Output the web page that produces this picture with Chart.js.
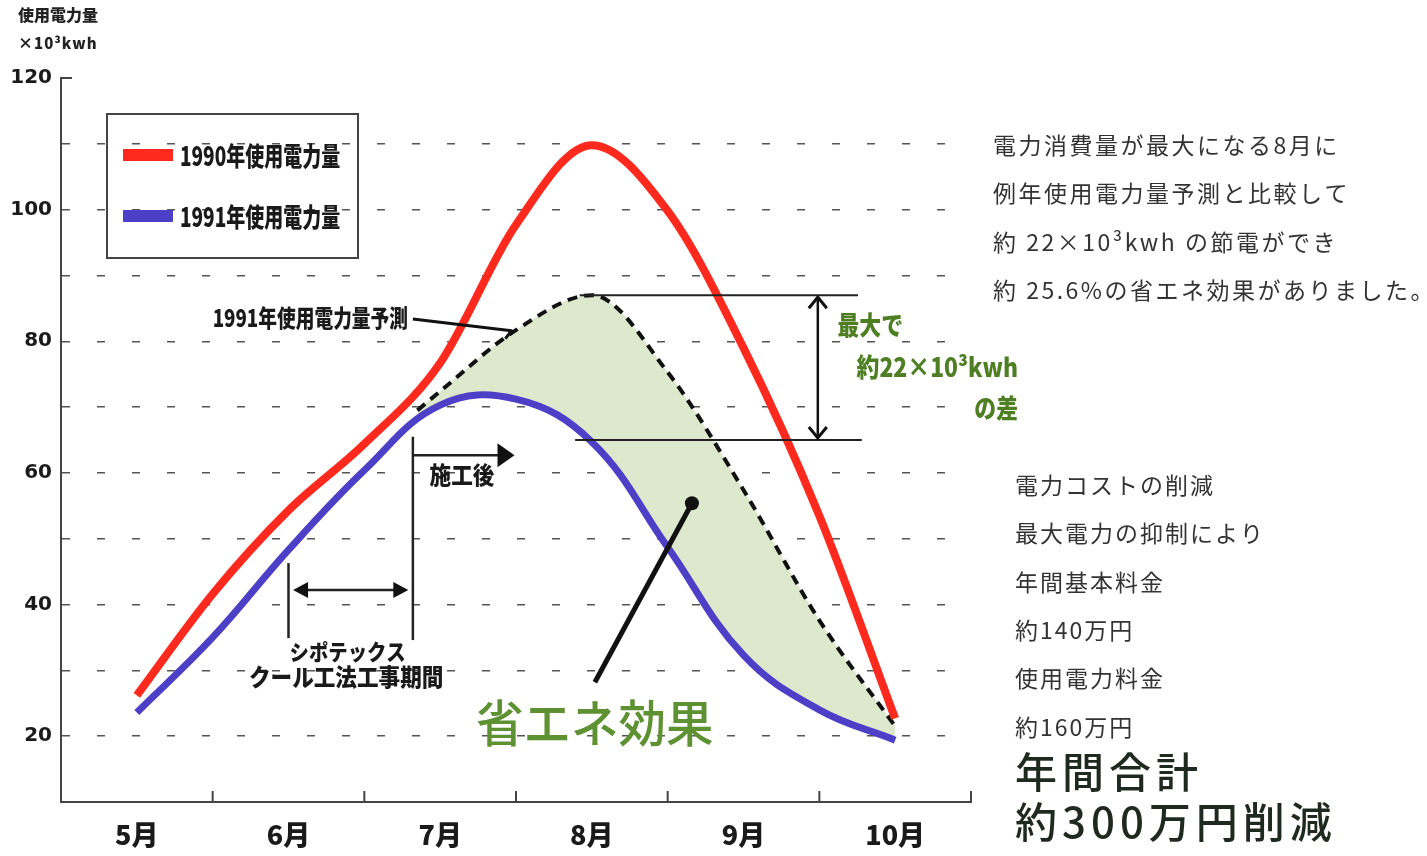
<!DOCTYPE html>
<html lang="ja">
<head>
<meta charset="utf-8">
<title>使用電力量</title>
<script src="https://cdn.jsdelivr.net/npm/chart.js@4.4.1/dist/chart.umd.min.js"></script>
<style>
  html,body{margin:0;padding:0;background:#fff;}
  canvas{display:block;}
</style>
</head>
<body>
<canvas id="graficoConsumo" width="1427" height="856"></canvas>
<script>
const meses = ['5月','6月','7月','8月','9月','10月'];

// lecturas cada medio mes (x en meses)
const xMes = [5,5.5,6,6.5,7,7.5,8,8.5,9,9.5,10];
const uso1990 = [26.2,41.6,54.3,64.4,76.7,97.7,109.8,99.8,79,53.5,22.7];
const uso1991 = [23.6,35,48.3,60.4,70.3,71.2,64.7,48.7,32.3,24,19.4];

// prediccion 1991, desde el fin de obra
const xPrediccion = [6.85,7,7.5,8,8.5,9,9.5,10];
const prediccion1991 = [69.5,72.4,81.7,87,75.3,57.4,37.6,21.5];

const yEtiquetas = [20,40,60,80,100,120];
const Y_MIN = 10, Y_MAX = 120;
const FIN_OBRA = 6.82, INICIO_OBRA = 6.0;
const DIFERENCIA_MAX = 22;

const notaAhorro = [
  '電力消費量が最大になる8月に',
  '例年使用電力量予測と比較して',
  '約 22×10³kwh の節電ができ',
  '約 25.6%の省エネ効果がありました。'
];
const notaCoste = ['電力コストの削減','最大電力の抑制により','年間基本料金','約140万円','使用電力料金','約160万円'];
const notaTotal = ['年間合計','約300万円削減'];

const JP = '"Noto Sans CJK JP"';
const ROJO = '#ff2a1d', AZUL = '#4d40c6', VERDE = '#4e7f22';

function puntos(xs, ys){
  return ys.map((v,i)=>({x:xs[i], y:v}));
}

function texto(ctx, str, x, y, font, color, opts={}){
  const {align='left', sx=1, spacing=0} = opts;
  ctx.save();
  ctx.font = font;
  ctx.fillStyle = color;
  ctx.letterSpacing = spacing+'px';
  ctx.textBaseline = 'middle';
  ctx.textAlign = 'left';
  const w = ctx.measureText(str).width*sx;
  let x0 = x;
  if(align==='center') x0 = x-w/2;
  if(align==='right') x0 = x-w;
  ctx.translate(x0,y);
  ctx.scale(sx,1);
  ctx.fillText(str,0,0);
  ctx.restore();
}

function linea(ctx, pts, lw, color){
  ctx.save();
  ctx.strokeStyle = color; ctx.lineWidth = lw;
  ctx.lineJoin = 'round';
  ctx.beginPath();
  pts.forEach((p,i)=> i ? ctx.lineTo(p[0],p[1]) : ctx.moveTo(p[0],p[1]));
  ctx.stroke();
  ctx.restore();
}

// punta rellena en (x2,y2) mirando desde (x1,y1)
function punta(ctx, x1,y1,x2,y2, largo, ancho){
  const a = Math.atan2(y2-y1, x2-x1);
  ctx.save();
  ctx.translate(x2,y2); ctx.rotate(a);
  ctx.fillStyle = '#111';
  ctx.beginPath();
  ctx.moveTo(0,0); ctx.lineTo(-largo,-ancho); ctx.lineTo(-largo,ancho);
  ctx.closePath(); ctx.fill();
  ctx.restore();
}

function puntaAbierta(ctx, x1,y1,x2,y2, largo, ancho){
  const a = Math.atan2(y2-y1, x2-x1);
  ctx.save();
  ctx.translate(x2,y2); ctx.rotate(a);
  ctx.strokeStyle = '#111'; ctx.lineWidth = 3;
  ctx.beginPath();
  ctx.moveTo(-largo,-ancho); ctx.lineTo(0,0); ctx.lineTo(-largo,ancho);
  ctx.stroke();
  ctx.restore();
}

const fondo = {
  id:'fondo',
  beforeDraw(chart){
    const ctx = chart.ctx;
    ctx.save(); ctx.fillStyle = '#fff';
    ctx.fillRect(0,0,chart.width,chart.height);
    ctx.restore();
  }
};

const anotaciones = {
  id:'anotaciones',
  afterDraw(chart){
    const ctx = chart.ctx, ca = chart.chartArea;
    const X = v => chart.scales.xv.getPixelForValue(v);
    const Y = v => chart.scales.y.getPixelForValue(v);

    // marcas de eje
    for(let i=1;i<=meses.length;i++){
      const x = X(4.5+i);
      linea(ctx, [[x,ca.bottom],[x,ca.bottom-11]], 2, '#444');
    }
    linea(ctx, [[ca.left,Y(Y_MAX)],[ca.left+11,Y(Y_MAX)]], 2, '#444');

    // titulo del eje y
    texto(ctx, '使用電力量', 18, 15, `900 16px ${JP}`, '#222');
    texto(ctx, '×10³kwh', 18, 43, `900 15px ${JP}`, '#222', {spacing:1});

    // leyenda
    const lx = ca.left+46, ly = ca.top+36;
    ctx.save();
    ctx.strokeStyle = '#444'; ctx.lineWidth = 2;
    ctx.strokeRect(lx, ly, 251, 144);
    ctx.restore();
    chart.data.datasets.slice(0,2).forEach((ds,i)=>{
      const yy = ly+41+i*61;
      ctx.save();
      ctx.fillStyle = ds.borderColor;
      ctx.fillRect(lx+16, yy-6, 50, 12);
      ctx.restore();
      texto(ctx, ds.label, lx+73, yy+1, `900 26px ${JP}`, '#1a1a1a', {sx:0.73});
    });

    // prediccion 1991
    texto(ctx, chart.data.datasets[2].label, X(5.5), Y(83.5), `900 24px ${JP}`, '#1a1a1a', {sx:0.78});
    linea(ctx, [[X(6.82),Y(83.4)],[X(7.47),Y(81.6)],[X(7.43),Y(80.4)]], 3, '#111');

    // periodo de obra
    linea(ctx, [[X(FIN_OBRA),Y(65.5)],[X(FIN_OBRA),Y(34.6)]], 2.5, '#222');
    linea(ctx, [[X(INICIO_OBRA),Y(46.3)],[X(INICIO_OBRA),Y(34.9)]], 2.5, '#222');
    const ya = Y(42.2);
    linea(ctx, [[X(6.03)+12,ya],[X(6.79)-12,ya]], 2.5, '#222');
    punta(ctx, X(6.79),ya, X(6.03),ya, 15, 8);
    punta(ctx, X(6.03),ya, X(6.79),ya, 15, 8);
    texto(ctx, 'シポテックス', X(6.39), Y(32.8), `900 22px ${JP}`, '#1a1a1a', {align:'center', sx:0.88});
    texto(ctx, 'クール工法工事期間', X(6.38), Y(29), `900 24px ${JP}`, '#1a1a1a', {align:'center', sx:0.9});

    // despues de la obra
    const yb = Y(62.7);
    linea(ctx, [[X(FIN_OBRA),yb],[X(7.49)-14,yb]], 2.5, '#222');
    punta(ctx, X(FIN_OBRA),yb, X(7.49),yb, 17, 12);
    texto(ctx, '施工後', X(6.93), Y(59.7), `900 24px ${JP}`, '#1a1a1a', {sx:0.9});

    // diferencia maxima
    const pico = Math.max(...prediccion1991);
    const bajo = pico-DIFERENCIA_MAX;
    linea(ctx, [[X(7.92),Y(pico)],[X(9.755),Y(pico)]], 2, '#222');
    linea(ctx, [[X(7.89),Y(bajo)],[X(9.78),Y(bajo)]], 2, '#222');
    const xf = X(9.49);
    linea(ctx, [[xf,Y(pico)+2],[xf,Y(bajo)-2]], 2.5, '#111');
    puntaAbierta(ctx, xf,Y(bajo), xf,Y(pico)+2, 11, 9);
    puntaAbierta(ctx, xf,Y(pico), xf,Y(bajo)-2, 11, 9);
    texto(ctx, '最大で', X(9.62), Y(82.5), `900 26px ${JP}`, VERDE, {sx:0.84});
    texto(ctx, `約${DIFERENCIA_MAX}×10³kwh`, X(10.81), Y(76.1), `900 26px ${JP}`, VERDE, {align:'right', sx:0.88});
    texto(ctx, 'の差', X(10.81), Y(69.9), `900 26px ${JP}`, VERDE, {align:'right', sx:0.84});

    // efecto de ahorro
    linea(ctx, [[X(8.02),Y(28.2)],[X(8.66),Y(55.4)]], 5, '#111');
    ctx.save();
    ctx.fillStyle = '#111';
    ctx.beginPath(); ctx.arc(X(8.66),Y(55.4),7,0,Math.PI*2); ctx.fill();
    ctx.restore();
    texto(ctx, '省エネ効果', X(8.02), Y(22), `500 50px ${JP}`, '#5e9132', {align:'center', sx:0.95});

    // notas de la derecha
    notaAhorro.forEach((t,i)=>{
      texto(ctx, t, ca.right+22, 145+i*48.5, `400 23px ${JP}`, '#333', {spacing:2.5});
    });
    notaCoste.forEach((t,i)=>{
      texto(ctx, t, ca.right+44, 485+i*48.4, `400 23px ${JP}`, '#333', {spacing:2});
    });
    texto(ctx, notaTotal[0], ca.right+44, 772, `500 42px ${JP}`, '#1e2a1e', {spacing:5});
    texto(ctx, notaTotal[1], ca.right+44, 822, `500 42px ${JP}`, '#1e2a1e', {spacing:5});
  }
};

new Chart('graficoConsumo', {
  type:'line',
  data:{
    datasets:[
      {
        label:'1990年使用電力量',
        data:puntos(xMes, uso1990),
        borderColor:ROJO,
        borderWidth:8,
        pointRadius:0,
        cubicInterpolationMode:'monotone',
        fill:false
      },
      {
        label:'1991年使用電力量',
        data:puntos(xMes, uso1991),
        borderColor:AZUL,
        borderWidth:7,
        pointRadius:0,
        tension:0.4,
        fill:false
      },
      {
        label:'1991年使用電力量予測',
        data:puntos(xPrediccion, prediccion1991),
        borderColor:'#111',
        borderWidth:4,
        borderDash:[10,7],
        pointRadius:0,
        cubicInterpolationMode:'monotone',
        fill:{target:1, above:'rgb(220,233,205)', below:'rgb(220,233,205)'}
      }
    ]
  },
  options:{
    responsive:false,
    animation:false,
    events:[],
    layout:{padding:{top:78, right:456, bottom:0, left:0}},
    plugins:{legend:{display:false}, tooltip:{enabled:false}},
    scales:{
      xv:{
        type:'linear', display:false,
        min:4.5, max:10.5
      },
      x:{
        type:'category',
        labels:meses,
        offset:true,
        position:'bottom',
        grid:{drawOnChartArea:false, drawTicks:false},
        border:{color:'#444', width:2},
        ticks:{
          color:'#1a1a1a', padding:17,
          font:{family:JP, size:27, weight:'900'}
        },
        afterFit(s){ s.height = 54; }
      },
      y:{
        min:Y_MIN, max:Y_MAX,
        grid:{
          drawTicks:false,
          lineWidth:1.5,
          color:c => (c.tick && c.tick.value>Y_MIN && c.tick.value<Y_MAX) ? '#555' : 'rgba(0,0,0,0)'
        },
        border:{color:'#444', width:2, dash:[8,27]},
        ticks:{
          stepSize:10, padding:9, color:'#1a1a1a',
          font:{family:'"DejaVu Sans"', size:20, weight:'bold'},
          callback:v => yEtiquetas.includes(v) ? v : ''
        },
        afterFit(s){ s.width = 61; }
      }
    }
  },
  plugins:[fondo, anotaciones]
});
</script>
</body>
</html>
